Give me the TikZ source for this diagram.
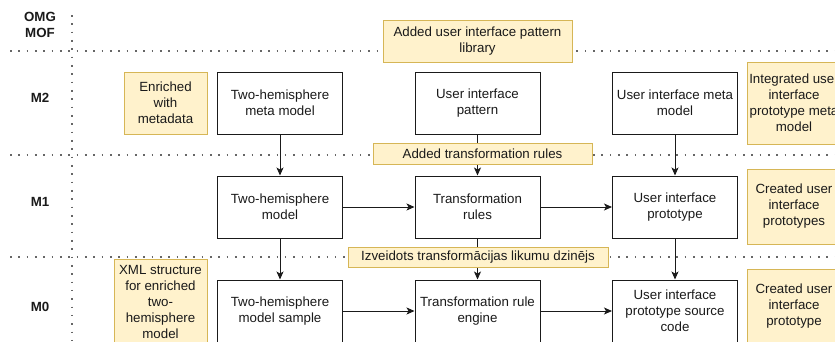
\documentclass[tikz,border=0pt]{standalone}
\usepackage{fontspec}
\setmainfont{Liberation Sans}
\usetikzlibrary{arrows.meta,backgrounds}
\definecolor{notefill}{HTML}{FFF2CC}
\definecolor{noteline}{HTML}{D6B656}
\definecolor{gridgray}{HTML}{666666}
\definecolor{ink}{HTML}{1A1A1A}
\begin{document}
\begin{tikzpicture}[x=1pt,y=-1pt,
  every node/.style={font=\fontsize{13.3}{16}\selectfont, text=ink},
  modelbox/.style={draw=ink, fill=white, line width=1pt, minimum width=125pt,
    minimum height=62pt, inner sep=0pt, align=center},
  note/.style={draw=noteline, fill=notefill, line width=1pt, inner sep=0pt, align=center},
  level/.style={font=\bfseries\fontsize{13.3}{16}\selectfont, align=center},
  gridline/.style={draw=gridgray, line width=1.6pt, dash pattern=on 1.6pt off 6.73pt},
  flow/.style={draw=ink, line width=1pt, -{Stealth[length=8pt,width=7pt,inset=2pt]}}
]
\useasboundingbox (0,0) rectangle (835,341);
\clip (0,0) rectangle (835,341);

% metalevel labels
\node[level] (omg) at (40,25) {OMG\\MOF};
\node[level] (m2) at (40,98) {M2};
\node[level] (m1) at (40,202) {M1};
\node[level] (m0) at (40,307) {M0};

% models
\node[modelbox] (thmeta)  at (280,103)   {Two-hemisphere\\meta model};
\node[modelbox] (uipat)   at (477.5,103) {User interface\\pattern};
\node[modelbox] (uimeta)  at (675,103)   {User interface meta\\model};
\node[modelbox] (thmodel) at (280,207)   {Two-hemisphere\\model};
\node[modelbox] (trules)  at (477.5,207) {Transformation\\rules};
\node[modelbox] (uiproto) at (675,207)   {User interface\\prototype};
\node[modelbox] (thsample) at (280,311)  {Two-hemisphere\\model sample};
\node[modelbox] (tengine) at (477.5,311) {Transformation rule\\engine};
\node[modelbox] (uicode)  at (675,311)   {User interface\\prototype source\\code};

% annotations
\node[note, minimum width=83pt, minimum height=62pt] (enrich) at (165.5,103) {Enriched\\with\\metadata};
\node[note, minimum width=189pt, minimum height=42pt] (library) at (477.5,41) {Added user interface pattern\\library};
\node[note, minimum width=94pt, minimum height=82pt] (integ) at (794,103) {Integrated user\\interface\\prototype meta\\model};
\node[note, minimum width=219pt, minimum height=21pt] (addrules) at (482.5,153.5) {Added transformation rules};
\node[note, minimum width=94pt, minimum height=75pt] (created1) at (794,206.5) {Created user\\interface\\prototypes};
\node[note, minimum width=260pt, minimum height=20pt] (engine) at (478,257) {Izveidots transformācijas likumu dzinējs};
\node[note, minimum width=94pt, minimum height=74pt] (created2) at (794,306) {Created user\\interface\\prototype};
\node[note, minimum width=93pt, minimum height=86pt] (xml) at (160.5,302) {XML structure\\for enriched\\two-\\hemisphere\\model};

\begin{scope}[on background layer]
  % level separators
  \draw[gridline] (10,51) -- (835,51);
  \draw[gridline] (10,155) -- (835,155);
  \draw[gridline] (10,257) -- (835,257);
  \draw[gridline] (72,15) -- (72,341);
  % transformation flows
  \draw[flow] (thmeta) -- (thmodel);
  \draw[flow] (uipat) -- (trules);
  \draw[flow] (uimeta) -- (uiproto);
  \draw[flow] (thmodel) -- (trules);
  \draw[flow] (trules) -- (uiproto);
  \draw[flow] (thmodel) -- (thsample);
  \draw[flow] (trules) -- (tengine);
  \draw[flow] (uiproto) -- (uicode);
  \draw[flow] (thsample) -- (tengine);
  \draw[flow] (tengine) -- (uicode);
\end{scope}
\end{tikzpicture}
\end{document}
